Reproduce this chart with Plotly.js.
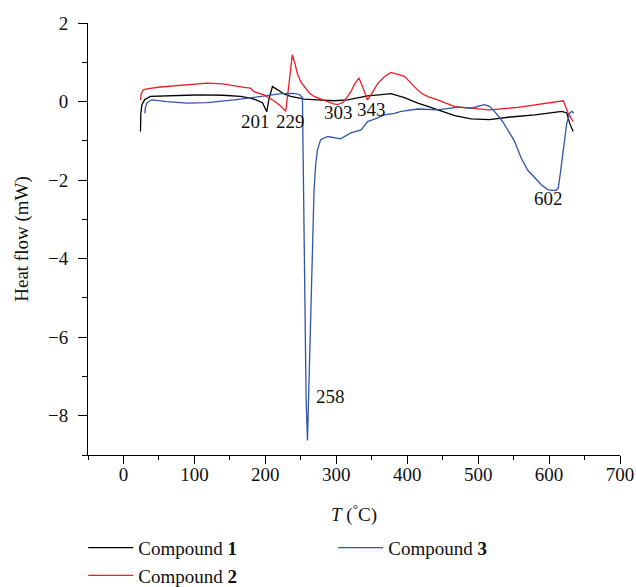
<!DOCTYPE html>
<html>
<head>
<meta charset="utf-8">
<script src="https://cdn.plot.ly/plotly-3.0.1.min.js"></script>
<style>html,body{margin:0;padding:0;background:#fff;}#chart{width:636px;height:587px;}</style>
</head>
<body>
<div id="chart"></div>
<script>
// Compound 1 (black)
const x1 = [24, 24.5, 26, 30, 38, 60, 90, 109, 140, 165, 179, 186, 196, 202, 205, 210, 215, 221.6, 228, 235.7, 245, 255, 273.5, 297, 316, 330, 344, 360, 377, 396, 415, 430, 443, 455, 467, 490, 516, 542, 580, 618, 625, 629, 634];
const y1 = [-0.76, -0.3, -0.08, 0.05, 0.13, 0.15, 0.16, 0.17, 0.16, 0.13, 0.09, 0.05, -0.03, -0.26, 0.05, 0.38, 0.33, 0.25, 0.18, 0.13, 0.09, 0.06, 0.04, 0.02, 0.04, 0.10, 0.145, 0.17, 0.20, 0.10, -0.04, -0.13, -0.21, -0.28, -0.36, -0.44, -0.46, -0.40, -0.34, -0.25, -0.29, -0.55, -0.76];

// Compound 2 (red)
const x2 = [24, 25, 28, 35, 52, 80, 118, 140, 155, 170, 179, 184, 198, 212, 222, 228.7, 233, 238, 242, 245, 250, 254.6, 262, 268.7, 278, 287.6, 295, 302, 310, 316, 320.6, 326, 332, 337, 344, 350, 358, 367, 377, 386, 396, 410, 420, 430, 443, 467, 500, 516, 556, 589, 620, 627, 634];
const y2 = [0.04, 0.2, 0.3, 0.33, 0.37, 0.42, 0.47, 0.45, 0.40, 0.36, 0.34, 0.25, 0.17, 0.02, -0.12, -0.25, 0.4, 1.19, 0.95, 0.72, 0.5, 0.38, 0.22, 0.13, 0.06, 0.0, -0.05, -0.08, -0.02, 0.13, 0.25, 0.45, 0.60, 0.38, 0.04, 0.2, 0.45, 0.62, 0.74, 0.70, 0.64, 0.38, 0.21, 0.12, 0.04, -0.13, -0.19, -0.21, -0.15, -0.06, 0.02, -0.30, -0.51];

// Compound 3 (blue)
const x3 = [30, 31, 33, 37, 40, 50, 61, 90, 118, 156, 193, 222, 240, 248, 252.3, 253.5, 255.5, 257.5, 259.4, 261, 263, 266.4, 268.7, 271, 273.5, 278, 288, 306, 320.6, 335, 344, 354, 368, 382, 391.5, 415, 443, 472, 490, 509, 516, 523, 530, 537, 544, 551, 561, 570, 580, 589, 598, 604, 610, 613, 616, 620, 625, 629, 632, 635];
const y3 = [-0.30, -0.15, -0.04, 0.02, 0.04, 0.02, 0.0, -0.04, -0.03, 0.04, 0.13, 0.20, 0.21, 0.18, 0.10, -2.0, -5.6, -7.6, -8.63, -7.6, -6.49, -3.94, -2.25, -1.6, -1.23, -0.97, -0.89, -0.95, -0.80, -0.72, -0.51, -0.45, -0.34, -0.30, -0.25, -0.19, -0.21, -0.14, -0.17, -0.08, -0.12, -0.25, -0.40, -0.58, -0.78, -1.0, -1.45, -1.75, -1.94, -2.12, -2.24, -2.26, -2.26, -2.20, -1.81, -1.23, -0.55, -0.30, -0.25, -0.29];

// Peak labels
const peakLabels = ["201", "229", "258", "303", "343", "602"];
const peakX = [186, 235, 292.3, 303, 350.3, 598.8];
const peakY = [-0.52, -0.52, -7.5, -0.29, -0.21, -2.48];

const FONT = "Liberation Serif, Times New Roman, serif";
const FS = 19;

const traces = [
  {x: x1, y: y1, mode: "lines", name: "Compound <b>1</b>", line: {color: "#000000", width: 1.3}, legendrank: 1},
  {x: x2, y: y2, mode: "lines", name: "Compound <b>2</b>", line: {color: "#ee1c25", width: 1.3}, legendrank: 3},
  {x: x3, y: y3, mode: "lines", name: "Compound <b>3</b>", line: {color: "#2f55a8", width: 1.3}, legendrank: 2}
];

const annotations = peakLabels.map((t, i) => ({
  x: peakX[i], y: peakY[i], xref: "x", yref: "y", text: t, showarrow: false,
  font: {family: FONT, size: FS, color: "#111"}
}));

const layout = {
  width: 636, height: 587,
  margin: {l: 88, r: 16, t: 23, b: 132, autoexpand: false},
  paper_bgcolor: "#fff", plot_bgcolor: "#fff",
  font: {family: FONT, size: FS, color: "#111"},
  showlegend: true,
  legend: {orientation: "h", x: -0.009, xanchor: "left", y: -0.171, yanchor: "top",
           itemwidth: 45, entrywidth: 190, traceorder: "normal", font: {family: FONT, size: FS, color: "#111"}},
  xaxis: {
    range: [-50, 700], dtick: 100, tick0: 0, ticks: "outside", ticklen: 8, tickwidth: 1, tickcolor: "#000",
    showline: true, linecolor: "#000", linewidth: 1, showgrid: false, zeroline: false,
    minor: {dtick: 50, tick0: 0, ticks: "outside", ticklen: 4, tickcolor: "#000", showgrid: false},
    title: {text: "<i>T</i> (<sup>°</sup>C)", font: {family: FONT, size: FS}, standoff: 23},
    tickfont: {family: FONT, size: FS}, ticklabelstandoff: -6
  },
  yaxis: {
    range: [-9, 2], dtick: 2, tick0: 0, ticks: "outside", ticklen: 9, tickwidth: 1, tickcolor: "#000",
    showline: true, linecolor: "#000", linewidth: 1, showgrid: false, zeroline: false,
    minor: {dtick: 1, tick0: 0, ticks: "outside", ticklen: 5, tickcolor: "#000", showgrid: false},
    title: {text: "Heat flow (mW)", font: {family: FONT, size: FS}, standoff: 14},
    tickfont: {family: FONT, size: FS}, ticklabelstandoff: 6
  },
  annotations: annotations
};

Plotly.newPlot("chart", traces, layout, {displayModeBar: false, staticPlot: true});
</script>
</body>
</html>
